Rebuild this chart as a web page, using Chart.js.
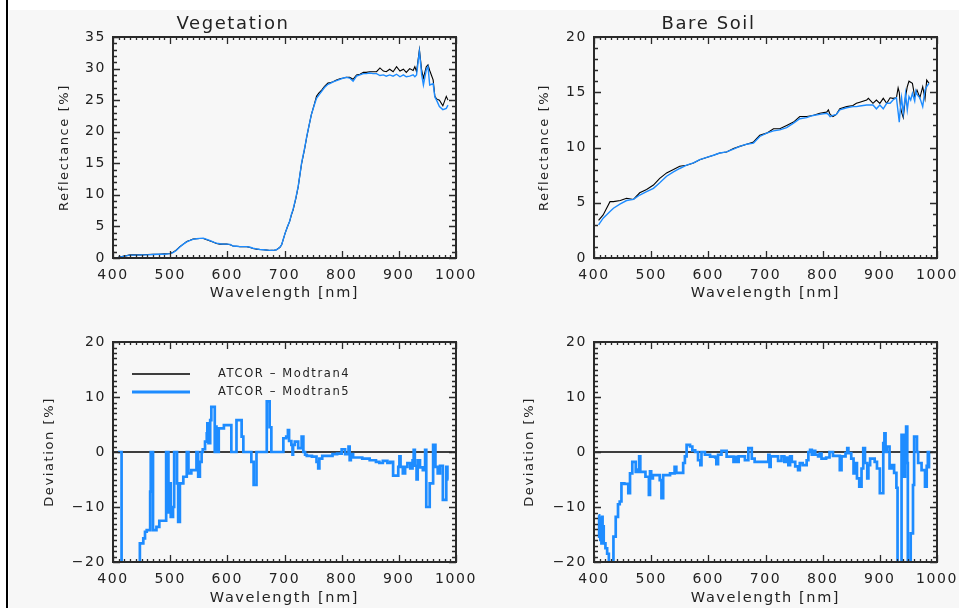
<!DOCTYPE html>
<html><head><meta charset="utf-8">
<script src="https://cdn.jsdelivr.net/npm/chart.js@4.4.1/dist/chart.umd.min.js"></script>
<style>
html,body{margin:0;padding:0;}
body{width:959px;height:608px;overflow:hidden;background:#fff;position:relative;}
#panel{position:absolute;left:9px;top:10px;width:950px;height:598px;background:#f7f7f7;}
#edge{position:absolute;left:6px;top:0;width:2px;height:608px;background:#000;}
.box{position:absolute;}
canvas{display:block;}
</style></head><body>
<div id="panel"></div><div id="edge"></div>
<div class="box" style="left:10px;top:10px"><canvas id="vegRef" width="470" height="300"></canvas></div>
<div class="box" style="left:480px;top:10px"><canvas id="soilRef" width="479" height="300"></canvas></div>
<div class="box" style="left:10px;top:310px"><canvas id="vegDev" width="470" height="298"></canvas></div>
<div class="box" style="left:480px;top:310px"><canvas id="soilDev" width="479" height="298"></canvas></div>
<script>
// ---------------- data ----------------
const panelTitles = ['Vegetation', 'Bare Soil'];
const seriesLabels = ['ATCOR \u2013 Modtran4', 'ATCOR \u2013 Modtran5'];
const xTitle = 'Wavelength [nm]';
const reflTitle = 'Reflectance [%]';
const devTitle = 'Deviation [%]';

const vegWavelength = [
409,420,430,440,450,460,470,480,490,500,
505,510,517,523,529,535,540,546,552,558,
564,570,576,581,587,593,599,605,610,616,
622,628,634,640,645,651,657,663,669,675,
680,686,692,695,698,701,705,709,712,715,
720,724,727,730,735,739,743,747,752,756,
760,765,770,776,781,785,791,797,803,808,
814,820,826,832,838,843,849,855,861,867,
873,878,884,890,896,902,908,913,919,925,
928,931,936,940,943,948,951,954,960,963,
966,971,977,983,986];
const vegModtran4 = [
0.1,0.3,0.5,0.5,0.5,0.55,0.6,0.6,0.65,0.7,
0.9,1.2,1.8,2.2,2.6,2.8,3.0,3.05,3.1,3.1,
2.9,2.7,2.5,2.3,2.2,2.2,2.2,2.1,1.9,1.85,
1.8,1.8,1.8,1.65,1.5,1.4,1.35,1.3,1.25,1.2,
1.2,1.3,1.7,2.1,3.0,3.9,4.9,5.8,6.8,7.6,
9.5,11.3,13.2,15.0,17.2,19.2,21.0,22.7,24.3,25.6,
26.1,26.6,27.2,27.7,27.8,27.9,28.2,28.4,28.5,28.6,
28.6,28.3,29.0,29.1,29.4,29.4,29.5,29.5,29.5,30.1,
29.6,29.5,29.9,29.5,30.3,29.6,29.9,29.4,30.0,29.7,
30.3,29.5,33.0,29.7,28.5,30.3,30.6,29.7,28.2,25.6,
25.2,25.0,24.1,25.6,25.0];
const vegModtran5 = [
0.1,0.3,0.45,0.45,0.5,0.5,0.55,0.6,0.6,0.7,
0.85,1.15,1.75,2.2,2.55,2.8,2.95,3.05,3.1,3.15,
2.95,2.75,2.5,2.35,2.25,2.2,2.2,2.15,1.9,1.85,
1.8,1.8,1.8,1.7,1.55,1.45,1.35,1.3,1.25,1.2,
1.2,1.3,1.7,2.1,3.0,3.9,4.9,5.8,6.9,7.7,
9.6,11.4,13.2,15.1,17.3,19.3,21.0,22.7,24.2,25.3,
25.8,26.4,27.0,27.5,27.7,27.9,28.1,28.3,28.5,28.6,
28.5,28.0,28.8,29.0,29.2,29.2,29.3,29.2,29.2,28.9,
29.0,28.8,29.0,28.8,29.1,28.7,29.0,28.7,28.8,29.0,
28.7,29.0,32.7,29.0,27.4,29.8,30.3,27.4,27.6,25.5,
25.0,24.0,23.5,23.7,24.2];

const soilWavelength = [
408,416,428,434,446,457,469,480,492,504,
515,527,539,550,562,574,585,597,609,620,
632,644,655,667,679,690,702,714,725,737,
749,760,772,783,795,807,810,813,818,824,
830,842,853,859,865,877,880,888,894,900,
906,912,918,923,929,932,934,936,938,941,
945,948,951,954,957,961,963,965,970,975,
979,982,986];
const soilModtran4 = [
3.4,3.9,5.1,5.1,5.2,5.4,5.3,5.9,6.2,6.6,
7.2,7.7,8.0,8.3,8.4,8.6,8.9,9.1,9.3,9.5,
9.6,9.9,10.1,10.3,10.5,11.1,11.3,11.7,11.7,12.0,
12.3,12.8,12.8,12.9,13.1,13.2,13.4,13.0,12.8,13.0,
13.5,13.7,13.8,14.0,14.1,14.3,14.45,14.0,14.3,14.0,
14.45,14.0,14.5,14.45,14.5,15.4,15.0,13.7,13.2,12.7,
14.6,15.5,16.0,15.9,15.8,14.6,14.9,15.2,14.5,15.5,
14.4,16.1,15.8];
const soilModtran5 = [
3.0,3.6,4.2,4.5,4.9,5.2,5.3,5.7,6.0,6.3,
6.8,7.4,7.8,8.1,8.4,8.6,8.9,9.1,9.3,9.5,
9.6,9.85,10.1,10.3,10.4,11.0,11.3,11.5,11.6,11.8,
12.2,12.6,12.7,12.9,13.0,13.1,13.0,12.8,12.9,13.0,
13.4,13.6,13.7,13.7,13.75,13.85,13.85,13.85,13.5,13.85,
13.5,14.0,14.0,14.3,14.5,13.2,12.3,13.6,14.5,13.1,
14.9,13.4,14.6,14.3,14.9,14.2,15.1,14.8,14.5,13.7,
15.2,15.5,15.8];

// deviation of Modtran5 result relative to Modtran4 (Modtran4 = reference, 0)
const devRefWavelength = [400, 1000];
const devRefModtran4 = [0, 0];

const vegDevWavelength = [
409,415,447,453,456,459,465,466,468,469,
470,476,481,493,497,499,501,505,507,512,
514,517,523,529,532,537,546,549,552,555,
557,561,564,565,566,567,570,572,578,579,
581,582,584,585,594,607,616,625,628,642,
646,651,669,674,677,698,703,706,708,712,
714,715,718,724,730,733,736,739,748,756,
759,761,766,784,792,800,806,812,814,816,
820,836,849,860,866,872,880,885,890,899,
901,903,907,911,915,920,924,926,928,931,
933,937,942,946,948,954,960,964,968,972,
977,983,985,987];
const vegDevModtran5 = [
0,-30,-16.6,-15.7,-14.5,-14.2,-7.2,0,-7,0,
-14.2,-13.6,-12.5,0,-11,-5.7,-11.8,-10,0,-5.7,
-12.7,-5.7,-4.5,0,-3.9,-3.3,0,-4.5,-1.8,0,
0.5,1.9,3.4,5.2,3.4,1.6,5.8,8.2,0,4.6,
0,4.3,0,4.3,4.9,0,5.8,2.8,0,-1.8,
-6,0,9.2,4.5,0,2.5,2.8,4,2,1.3,
-0.5,1.3,1.9,0.7,2.8,0,-0.5,-0.7,-0.85,-1.8,
-3,-1.2,-0.7,-0.4,-0.3,0.5,-0.4,1,-1.5,-0.4,
-1,-1.2,-1.5,-1.8,-2,-1.6,-2,-1.8,-4.3,-2.7,
-0.8,-2.7,-3.9,-2.7,-2.0,-3.0,-1.5,0.4,-2.5,-5,
-1.5,-2.8,-3.3,0.4,-10,-5.7,1.3,-2.7,-3.9,-2.5,
-8.7,-2.7,-5,-5];

const soilDevWavelength = [
408,409,410,411,412,413,414,415,416,417,
420,423,426,428,434,438,442,445,448,453,
460,463,467,473,477,479,481,490,496,498,
500,503,515,518,521,533,541,544,556,559,
562,568,572,577,582,586,588,594,603,612,
614,617,623,632,644,647,650,653,664,670,
676,681,705,707,709,722,728,733,737,740,
743,746,752,757,760,765,772,775,778,781,
784,787,792,795,798,806,812,818,830,833,
840,843,845,850,854,857,860,864,868,871,
874,878,880,883,891,895,900,906,908,910,
912,917,921,925,929,931,938,941,944,946,
948,949,954,958,960,965,967,973,979,982,
984,986];
const soilDevModtran5 = [
-11.5,-15.4,-12,-16,-13,-16.6,-11.8,-15,-13.5,-16.6,
-17.5,-18.5,-20.5,-23,-15.4,-11.8,-9.5,-9,-5.7,-5.8,
-7.5,-3.9,-1.8,-3.6,-3.2,-0.8,-3.6,-4.5,-7.8,-3.5,
-4.8,-4.2,-5.1,-8.4,-4.2,-3.9,-2.7,-3.8,-2.0,-0.8,
1.3,1.0,0.3,0,-1.5,-2.4,0,-0.5,-0.85,-1.0,
-2.2,-0.5,0.2,-0.85,-1.8,-0.9,-1.8,-0.8,-1.5,0.7,
-1.2,-1.8,-0.5,-2.7,-0.8,-1.6,-0.8,-1.8,-1.0,-2.4,
-0.8,-1.8,-2.6,-3.3,-2.0,-2.4,-1.5,0,0.4,-0.5,
0.2,-0.5,-0.8,-0.3,-1.2,-1.0,0,-0.7,-3.3,-0.8,
-0.2,0.7,-0.2,-1.2,-3.9,-2.0,-4.8,-6.3,-3.0,0.7,
-2.0,-4.8,-2.4,-1.2,-1.8,-3.0,-7.5,1.6,3.4,0,
1.0,-3.0,-2.4,-3.8,-6.5,-25,3.1,-4.5,3.1,4.6,
-2,-25,-14.8,-6,2.8,0,-2.0,-3.3,-6.3,-2.5,
0,-3];

// ---------------- rendering ----------------
const INK = '#222222';
const BLUE = '#1E8CFF';
const FONT = '"DejaVu Sans", sans-serif';
Chart.defaults.font.family = FONT;
Chart.defaults.color = INK;

const pts = (xs, ys) => xs.map((x, i) => ({ x, y: ys[i] }));
const fmt = v => String(v).replace('-', '\u2212');

const spacing = {
  id: 'spacing',
  beforeUpdate(c) { c.ctx.letterSpacing = '1.6px'; },
  beforeDraw(c) { c.ctx.letterSpacing = '1.6px'; }
};

const axisFrame = {
  id: 'axisFrame',
  afterDatasetsDraw(chart, args, o) {
    const { ctx, chartArea: a, scales: { x, y } } = chart;
    ctx.save();
    ctx.strokeStyle = '#2a2a2a';
    ctx.lineWidth = 1.3;
    ctx.beginPath();
    const nx = Math.round((x.max - x.min) / o.xMinor);
    for (let i = 0; i <= nx; i++) {
      const v = x.min + i * o.xMinor;
      const px = Math.round(x.getPixelForValue(v)) + 0.5;
      const major = i % Math.round(o.xMajor / o.xMinor) === 0;
      const len = major ? 7 : 3;
      ctx.moveTo(px, a.bottom); ctx.lineTo(px, a.bottom - len);
      ctx.moveTo(px, a.top); ctx.lineTo(px, a.top + len);
    }
    const ny = Math.round((y.max - y.min) / o.yMinor);
    for (let i = 0; i <= ny; i++) {
      const v = y.min + i * o.yMinor;
      const py = Math.round(y.getPixelForValue(v)) + 0.5;
      const major = i % Math.round(o.yMajor / o.yMinor) === 0;
      const len = major ? 7 : 4;
      ctx.moveTo(a.left, py); ctx.lineTo(a.left + len, py);
      ctx.moveTo(a.right, py); ctx.lineTo(a.right - len, py);
    }
    ctx.stroke();
    ctx.lineWidth = 2;
    ctx.strokeRect(a.left, a.top, a.right - a.left, a.bottom - a.top);
    ctx.restore();
  }
};

const insideLegend = {
  id: 'insideLegend',
  afterDatasetsDraw(chart, args, o) {
    if (!o || !o.show) return;
    const { ctx, chartArea: a } = chart;
    ctx.save();
    chart.data.datasets.forEach((ds, i) => {
      const y = a.top + o.top + i * o.gap;
      ctx.beginPath();
      ctx.strokeStyle = ds.borderColor;
      ctx.lineWidth = ds.legendWidth;
      ctx.moveTo(a.left + o.lineStart, y);
      ctx.lineTo(a.left + o.lineEnd, y);
      ctx.stroke();
      ctx.fillStyle = INK;
      ctx.font = '11.5px ' + FONT;
      ctx.textBaseline = 'middle';
      ctx.textAlign = 'left';
      ctx.fillText(ds.label, a.left + o.textStart, y);
    });
    ctx.restore();
  }
};

function panel(id, o) {
  return new Chart(document.getElementById(id), {
    type: 'line',
    data: { datasets: o.datasets },
    options: {
      responsive: false,
      animation: false,
      events: [],
      elements: { point: { radius: 0 }, line: { tension: 0 } },
      layout: { padding: { left: 0, right: o.padRight, top: o.padTop, bottom: 0 } },
      plugins: {
        legend: { display: false },
        tooltip: { enabled: false },
        title: o.title ? {
          display: true, text: o.title, color: INK,
          font: { size: 18, weight: 'normal', lineHeight: 1.2 },
          padding: { top: 3.2, bottom: 2.2 }
        } : { display: false },
        insideLegend: o.legend || { show: false },
        axisFrame: { xMinor: 10, xMajor: 100, yMinor: o.yMinor, yMajor: o.yStep }
      },
      scales: {
        x: {
          type: 'linear', position: 'bottom', min: 400, max: 1000,
          grid: { display: false, drawTicks: false }, border: { display: false },
          ticks: { stepSize: 100, padding: 9, color: INK, font: { size: 14 }, maxRotation: 0, autoSkip: false, callback: fmt },
          title: { display: true, text: xTitle, color: INK, font: { size: 14.5, lineHeight: 1.2 }, padding: { top: 0, bottom: o.xTitlePad } },
          afterFit(s) { s.height = o.xHeight; s.paddingLeft = 0; s.paddingRight = 0; }
        },
        y: {
          type: 'linear', position: 'left', min: o.yMin, max: o.yMax,
          grid: { display: false, drawTicks: false }, border: { display: false },
          ticks: { stepSize: o.yStep, padding: 7, color: INK, font: { size: 14 }, autoSkip: false, callback: fmt },
          title: { display: true, text: o.yTitle, color: INK, font: { size: 13, lineHeight: 1.2 }, padding: { top: o.yTitlePad, bottom: 0 } },
          afterFit(s) { s.width = o.yWidth; s.paddingTop = 0; s.paddingBottom = 0; }
        }
      }
    },
    plugins: [spacing, axisFrame, insideLegend]
  });
}

const reflSets = (xs, a, b) => [
  { label: seriesLabels[0], data: pts(xs, a), borderColor: '#000000', borderWidth: 1.1, order: 1 },
  { label: seriesLabels[1], data: pts(xs, b), borderColor: BLUE, borderWidth: 1.4, order: 0 }
];
const devSets = (xs, b) => [
  { label: seriesLabels[0], data: pts(devRefWavelength, devRefModtran4), borderColor: '#000000', borderWidth: 1.3, legendWidth: 1.3, order: 1 },
  { label: seriesLabels[1], data: pts(xs, b), borderColor: BLUE, borderWidth: 2.7, legendWidth: 2.8, stepped: true, order: 0 }
];

panel('vegRef', {
  title: panelTitles[0], datasets: reflSets(vegWavelength, vegModtran4, vegModtran5),
  yMin: 0, yMax: 35, yStep: 5, yMinor: 1, yTitle: reflTitle,
  padTop: 0, padRight: 24, yWidth: 103, yTitlePad: 47.2, xHeight: 52, xTitlePad: 8.0
});
panel('soilRef', {
  title: panelTitles[1], datasets: reflSets(soilWavelength, soilModtran4, soilModtran5),
  yMin: 0, yMax: 20, yStep: 5, yMinor: 1, yTitle: reflTitle,
  padTop: 0, padRight: 22, yWidth: 114, yTitlePad: 57.2, xHeight: 52, xTitlePad: 8.0
});
panel('vegDev', {
  datasets: devSets(vegDevWavelength, vegDevModtran5),
  yMin: -20, yMax: 20, yStep: 10, yMinor: 1, yTitle: devTitle,
  padTop: 32, padRight: 24, yWidth: 103, yTitlePad: 32.2, xHeight: 46, xTitlePad: 1.5,
  legend: { show: true, top: 32, gap: 18, lineStart: 19, lineEnd: 77, textStart: 105 }
});
panel('soilDev', {
  datasets: devSets(soilDevWavelength, soilDevModtran5),
  yMin: -20, yMax: 20, yStep: 10, yMinor: 1, yTitle: devTitle,
  padTop: 32, padRight: 22, yWidth: 114, yTitlePad: 42.2, xHeight: 46, xTitlePad: 1.5
});
</script>
</body></html>
